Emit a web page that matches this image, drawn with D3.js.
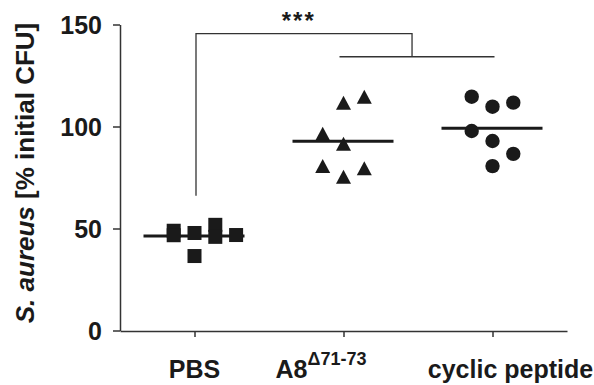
<!doctype html>
<html>
<head>
<meta charset="utf-8">
<style>
  body { margin: 0; background: #fff; }
  svg { display: block; font-family: "Liberation Sans", Arial, sans-serif; }
  .axis path, .axis line { stroke: #333; stroke-width: 1.5; }
  .axis text { font-size: 25px; font-weight: bold; fill: #1a1a1a; }
</style>
<script src="https://d3js.org/d3.v7.min.js"></script>
</head>
<body>
<script>

  // groups and values (% initial CFU)
  var groups = ["PBS", "A8", "cyclic peptide"];
  var pbsValues    = [48.9, 46.7, 47.8, 36.5, 51.8, 45.9, 46.8];
  var pbsSlots     = [-1, -1, 0, 0, 1, 1, 2];
  var a8Values     = [111.7, 114.6, 96.4, 91.5, 80.6, 79.5, 75.4];
  var a8Slots      = [0, 1, -1, 0, -1, 1, 0];
  var cyclicValues = [114.6, 109.7, 111.7, 97.8, 92.9, 86.6, 80.6];
  var cyclicSlots  = [-1, 0, 1, -1, 0, 1, 0];
  var yTicks = [0, 50, 100, 150];
  var sigLabel = "***";
  var bracketTop = 145.5, bracketLow = 134.2, bracketFoot = 66;

  var svg_width = 594, svg_height = 385;
  var margin = {left: 120, top: 24.5, right: 27, bottom: 54.5};
  var width = svg_width - margin.left - margin.right;
  var height = svg_height - margin.top - margin.bottom;

  var svg = d3.select("body").append("svg")
      .attr("width", svg_width)
      .attr("height", svg_height);

  var g = svg.append("g")
      .attr("transform", "translate(" + margin.left + "," + margin.top + ")");

  var x = d3.scalePoint().domain(groups).range([0, width]).padding(0.5);
  var y = d3.scaleLinear().domain([0, 150]).range([height, 0]);
  var slotW = 20.8;

  // axes
  var yAxis = g.append("g").attr("class", "axis")
      .call(d3.axisLeft(y).tickValues(yTicks).tickSize(7).tickPadding(11).tickSizeOuter(0));
  yAxis.selectAll("text").attr("dy", "0.36em");

  g.append("g").attr("class", "axis")
      .attr("transform", "translate(0," + (height + 0.5) + ")")
      .call(d3.axisBottom(x).tickSize(6).tickSizeOuter(0).tickFormat(""));

  // x labels
  var lab = g.append("g").attr("font-size", "25px").attr("font-weight", "bold").attr("fill", "#1a1a1a");
  lab.append("text").attr("x", x("PBS")).attr("y", height + 47).attr("text-anchor", "middle").text("PBS");
  var a8 = lab.append("text").attr("x", x("A8") - 68).attr("y", height + 47);
  a8.append("tspan").text("A8");
  a8.append("tspan").attr("dx", 0).attr("dy", -13).attr("font-size", "18px").text("\u039471-73");
  lab.append("text").attr("x", x("cyclic peptide") + 18).attr("y", height + 47)
      .attr("text-anchor", "middle").text("cyclic peptide");

  // y title
  var title = svg.append("text")
      .attr("transform", "translate(34,173) rotate(-90)")
      .attr("text-anchor", "middle")
      .attr("font-size", "26px").attr("font-weight", "bold").attr("fill", "#1a1a1a");
  title.append("tspan").attr("font-style", "italic").text("S. aureus");
  title.append("tspan").text(" [% initial CFU]");

  var markColor = "#1a1a1a";

  function pts(vals, slots, grp) {
    return vals.map(function(v, i) { return {v: v, s: slots[i], g: grp}; });
  }

  // squares
  g.selectAll(".sq").data(pts(pbsValues, pbsSlots, "PBS")).enter().append("rect")
      .attr("x", function(d) { return x(d.g) + d.s * slotW - 7; })
      .attr("y", function(d) { return y(d.v) - 7; })
      .attr("width", 14).attr("height", 14)
      .attr("fill", markColor);

  // triangles
  g.selectAll(".tri").data(pts(a8Values, a8Slots, "A8")).enter().append("path")
      .attr("d", "M0,-7L7.5,7L-7.5,7Z")
      .attr("transform", function(d) { return "translate(" + (x(d.g) + d.s * slotW) + "," + y(d.v) + ")"; })
      .attr("fill", markColor);

  // circles
  g.selectAll(".dot").data(pts(cyclicValues, cyclicSlots, "cyclic peptide")).enter().append("circle")
      .attr("cx", function(d) { return x(d.g) + d.s * slotW; })
      .attr("cy", function(d) { return y(d.v); })
      .attr("r", 7.2)
      .attr("fill", markColor);

  // mean lines
  var means = [[ "PBS", d3.mean(pbsValues)], ["A8", d3.mean(a8Values)], ["cyclic peptide", d3.mean(cyclicValues)]];
  g.selectAll(".mean").data(means).enter().append("line")
      .attr("x1", function(d) { return x(d[0]) - 51; })
      .attr("x2", function(d) { return x(d[0]) + 50; })
      .attr("y1", function(d) { return y(d[1]); })
      .attr("y2", function(d) { return y(d[1]); })
      .attr("stroke", markColor).attr("stroke-width", 3);

  // significance bracket
  var joinX = x("A8") + 0.46 * (x("cyclic peptide") - x("A8"));
  var br = g.append("g").attr("fill", "none").attr("stroke", "#333").attr("stroke-width", 1.3);
  br.append("path")
      .attr("d", "M" + (x("PBS") + 1.5) + "," + y(bracketFoot) +
                 "V" + y(bracketTop) + "H" + joinX + "V" + y(bracketLow));
  br.append("path")
      .attr("d", "M" + (x("A8") - 4) + "," + y(bracketLow) + "H" + (x("cyclic peptide") + 2));

  g.append("text")
      .attr("x", x("PBS") + 0.7 * (x("A8") - x("PBS")))
      .attr("y", 4.5)
      .attr("text-anchor", "middle")
      .attr("font-size", "24px").attr("font-weight", "bold").attr("letter-spacing", "2px")
      .attr("fill", "#1a1a1a")
      .text(sigLabel);

</script>
</body>
</html>
